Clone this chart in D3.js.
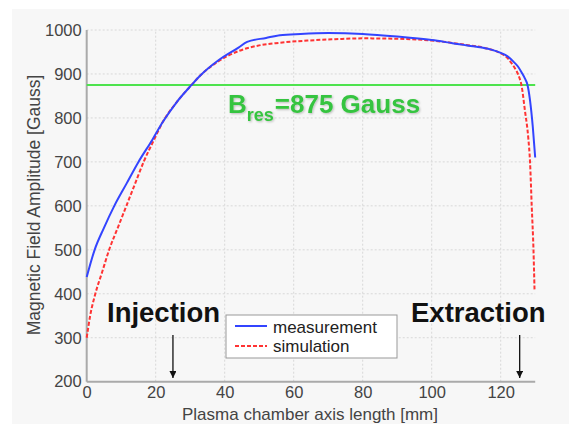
<!DOCTYPE html>
<html>
<head>
<meta charset="utf-8">
<script src="https://cdn.jsdelivr.net/npm/d3@7"></script>
<style>
  body { margin: 0; background: #fff; }
  svg { display: block; font-family: "Liberation Sans", Arial, sans-serif; }
</style>
</head>
<body>
<svg id="chart" width="569" height="424"></svg>
<script>
// measured field along the chamber axis [mm, Gauss]
const measX = [0, 2.3, 5, 8, 11.5, 15, 19, 22, 26, 30.4, 33, 38, 44, 46.5, 52, 56, 62, 70, 80, 90, 100, 106, 112, 117, 120, 122, 123.7, 125, 126.1, 127, 127.7, 128.5, 129.3, 130];
const measY = [438, 500, 550, 600, 650, 700, 750, 790, 835, 875, 897, 930, 960, 973, 982, 988, 991, 993, 991, 985, 977, 970, 963, 956, 948, 940, 928, 917, 903, 890, 877, 840, 780, 710];

// simulated field
const simX = [0, 1, 2.5, 4.5, 6.5, 9, 11.5, 14, 16.5, 19.5, 22, 26, 30.4, 33, 38, 44, 50, 56, 64, 72, 80, 90, 100, 110, 116, 120, 122, 123.2, 124.2, 125.1, 126.1, 127, 128, 128.5, 129, 129.5, 129.8];
const simY = [300, 350, 400, 450, 500, 550, 600, 650, 700, 750, 790, 835, 875, 897, 928, 952, 965, 971, 976, 979, 981, 980, 976, 966, 958, 947, 936, 924, 912, 898, 871, 818, 754, 700, 598, 500, 410];

const bRes = 875;
const xTicks = [0, 20, 40, 60, 80, 100, 120];
const yTicks = [200, 300, 400, 500, 600, 700, 800, 900, 1000];
const seriesNames = ["measurement", "simulation"];

const svg = d3.select("#chart");

// panel background
svg.append("rect").attr("x", 12).attr("y", 9).attr("width", 557).attr("height", 415).attr("fill", "#f7f7f7");

const x = d3.scaleLinear().domain([0, 130]).range([86.7, 535.2]),
      y = d3.scaleLinear().domain([200, 1000]).range([381.7, 30]);

// grid
const grid = svg.append("g").attr("stroke", "#d8d8d8").attr("stroke-width", 1).attr("stroke-dasharray", "2,2");
grid.selectAll("line.h").data(yTicks.slice(1)).join("line")
  .attr("x1", x(0)).attr("x2", x(130)).attr("y1", d => y(d)).attr("y2", d => y(d));
grid.selectAll("line.v").data(xTicks.slice(1)).join("line")
  .attr("x1", d => x(d)).attr("x2", d => x(d)).attr("y1", y(200)).attr("y2", y(1000));

// axes
const xAxis = svg.append("g").attr("transform", `translate(0,${y(200)})`)
  .call(d3.axisBottom(x).tickValues(xTicks).tickFormat(d3.format("d")).tickSize(0).tickPadding(5));
const yAxis = svg.append("g").attr("transform", `translate(${x(0)},0)`)
  .call(d3.axisLeft(y).tickValues(yTicks).tickFormat(d3.format("d")).tickSize(0).tickPadding(5));
[xAxis, yAxis].forEach(a => {
  a.select(".domain").attr("stroke", "#aaa").attr("stroke-width", 2);
  a.selectAll("text").attr("fill", "#444").style("font-size", "16.5px").style("font-family", "Liberation Sans, Arial, sans-serif");
});
xAxis.select(".domain").attr("d", `M${x(0)},0H${x(130)}`);
yAxis.select(".domain").attr("d", `M0,${y(200)}V${y(1000)}`);

svg.append("text").attr("x", 310).attr("y", 419.5).attr("text-anchor", "middle")
  .attr("fill", "#444").style("font-size", "17px").text("Plasma chamber axis length [mm]");
svg.append("text").attr("transform", "translate(40,205) rotate(-90)").attr("text-anchor", "middle")
  .attr("fill", "#444").style("font-size", "17.5px").text("Magnetic Field Amplitude [Gauss]");

// resonance line
svg.append("line").attr("x1", x(0)).attr("x2", x(130)).attr("y1", y(bRes)).attr("y2", y(bRes))
  .attr("stroke", "#4ee34e").attr("stroke-width", 2);

const line = d3.line().x(d => x(d[0])).y(d => y(d[1])).curve(d3.curveMonotoneX);

svg.append("path").datum(d3.zip(simX, simY)).attr("d", line)
  .attr("fill", "none").attr("stroke", "#ff3333").attr("stroke-width", 2).attr("stroke-dasharray", "4,2");
svg.append("path").datum(d3.zip(measX, measY)).attr("d", line)
  .attr("fill", "none").attr("stroke", "#3344ff").attr("stroke-width", 2);

// B_res label
const defs = svg.append("defs");
defs.append("filter").attr("id", "shadow").attr("x", "-10%").attr("y", "-20%").attr("width", "130%").attr("height", "150%")
  .append("feDropShadow").attr("dx", 1).attr("dy", 1).attr("stdDeviation", 1).attr("flood-color", "#000").attr("flood-opacity", 0.25);
const bt = svg.append("text").attr("x", 228).attr("y", 113).attr("fill", "#36c43f")
  .attr("font-weight", "bold").style("font-size", "26px").attr("filter", "url(#shadow)");
bt.append("tspan").text("B");
bt.append("tspan").attr("dy", 8).style("font-size", "18px").text("res");
bt.append("tspan").attr("dy", -8).attr("dx", 1).text("=875 Gauss");

// Injection / Extraction
const marks = [{label: "Injection", tx: 107, at: 25}, {label: "Extraction", tx: 411, at: 125.5}];
defs.append("marker").attr("id", "arrow").attr("viewBox", "0 0 10 10").attr("refX", 10).attr("refY", 5)
  .attr("markerWidth", 7).attr("markerHeight", 7).attr("markerUnits", "userSpaceOnUse").attr("orient", "auto")
  .append("path").attr("d", "M0,0L10,5L0,10Z").attr("fill", "#111");
marks.forEach(m => {
  svg.append("text").attr("x", m.tx).attr("y", 322).attr("fill", "#111").attr("font-weight", "bold")
    .style("font-size", "27.5px").text(m.label);
  svg.append("line").attr("x1", x(m.at)).attr("x2", x(m.at)).attr("y1", 335).attr("y2", 378)
    .attr("stroke", "#111").attr("stroke-width", 1.3).attr("marker-end", "url(#arrow)");
});

// legend
const lg = svg.append("g").attr("transform", "translate(226,315)");
lg.append("rect").attr("width", 171).attr("height", 43).attr("fill", "#fff").attr("stroke", "#999");
const colors = ["#3344ff", "#ff3333"], dashes = [null, "4,2"];
seriesNames.forEach((n, i) => {
  lg.append("line").attr("x1", 9).attr("x2", 41).attr("y1", 11 + i * 20).attr("y2", 11 + i * 20)
    .attr("stroke", colors[i]).attr("stroke-width", 2).attr("stroke-dasharray", dashes[i]);
  lg.append("text").attr("x", 47).attr("y", 17.5 + i * 19).attr("fill", "#222").style("font-size", "17px").text(n);
});
</script>
</body>
</html>
